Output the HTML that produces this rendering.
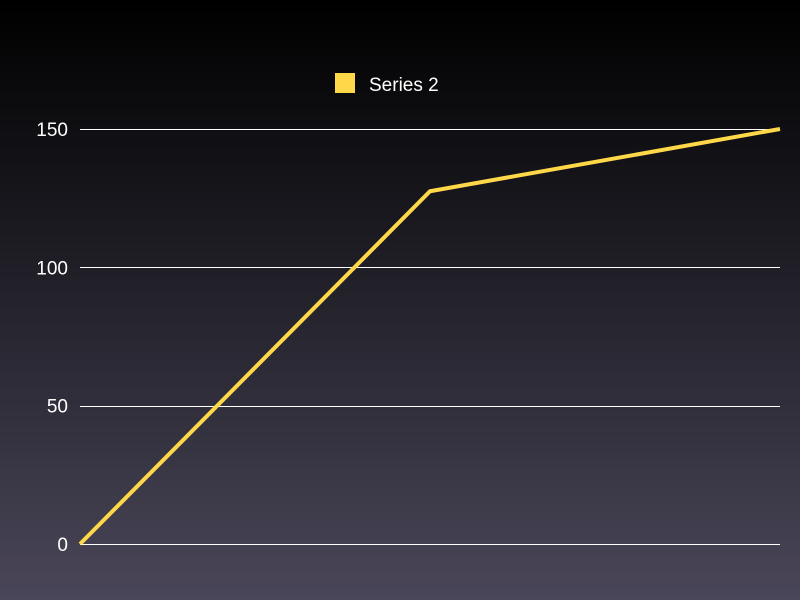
<!DOCTYPE html>
<html><head><meta charset="utf-8"><style>
html,body{margin:0;padding:0;width:800px;height:600px;overflow:hidden}
body{background:linear-gradient(to bottom,#000000 0%,#1c1b22 40%,#4a4659 100%);font-family:"Liberation Sans",sans-serif}
</style></head><body>
<svg id="chart" width="800" height="600" xmlns="http://www.w3.org/2000/svg">
<g id="legend">
<rect x="335" y="73" width="20" height="20" fill="#ffd84a"/>
<text x="369" y="91" fill="#ffffff" font-size="19" font-family="Liberation Sans, sans-serif">Series 2</text>
</g>
<g id="grid"></g>
<g id="series"></g>
</svg>
<script>
const categories = ["A", "B", "C"];
const series2 = [0, 127.5, 150];
const yTicks = [0, 50, 100, 150];
const NS = "http://www.w3.org/2000/svg";
const x0 = 80, x1 = 780, yBase = 544, yTop = 129, yMax = 150;
function xs(i){ return x0 + i * (x1 - x0) / (categories.length - 1); }
function ys(v){ return yBase - v / yMax * (yBase - yTop); }
const grid = document.getElementById('grid');
yTicks.forEach(t => {
  const l = document.createElementNS(NS, 'line');
  
  
  const gy = Math.round(ys(t)) + 0.5;
  l.setAttribute('x1', 80); l.setAttribute('x2', 780);
  l.setAttribute('y1', gy); l.setAttribute('y2', gy);
  l.setAttribute('stroke', '#ffffff'); l.setAttribute('stroke-width', '1');
  l.setAttribute('shape-rendering', 'crispEdges');
  grid.appendChild(l);
  const tx = document.createElementNS(NS, 'text');
  
  
  tx.setAttribute('x', 68); tx.setAttribute('y', ys(t) + 7);
  tx.setAttribute('text-anchor', 'end');
  tx.setAttribute('fill', '#ffffff'); tx.setAttribute('font-size', '19');
  tx.setAttribute('font-family', 'Liberation Sans, sans-serif');
  tx.textContent = t;
  grid.appendChild(tx);
});
const p = document.createElementNS(NS, 'polyline');


p.setAttribute('points', series2.map((v, i) => xs(i) + ',' + ys(v)).join(' '));
p.setAttribute('fill', 'none'); p.setAttribute('stroke', '#ffd84a');
p.setAttribute('stroke-width', '4'); p.setAttribute('stroke-linejoin', 'miter');
document.getElementById('series').appendChild(p);
</script>
</body></html>
